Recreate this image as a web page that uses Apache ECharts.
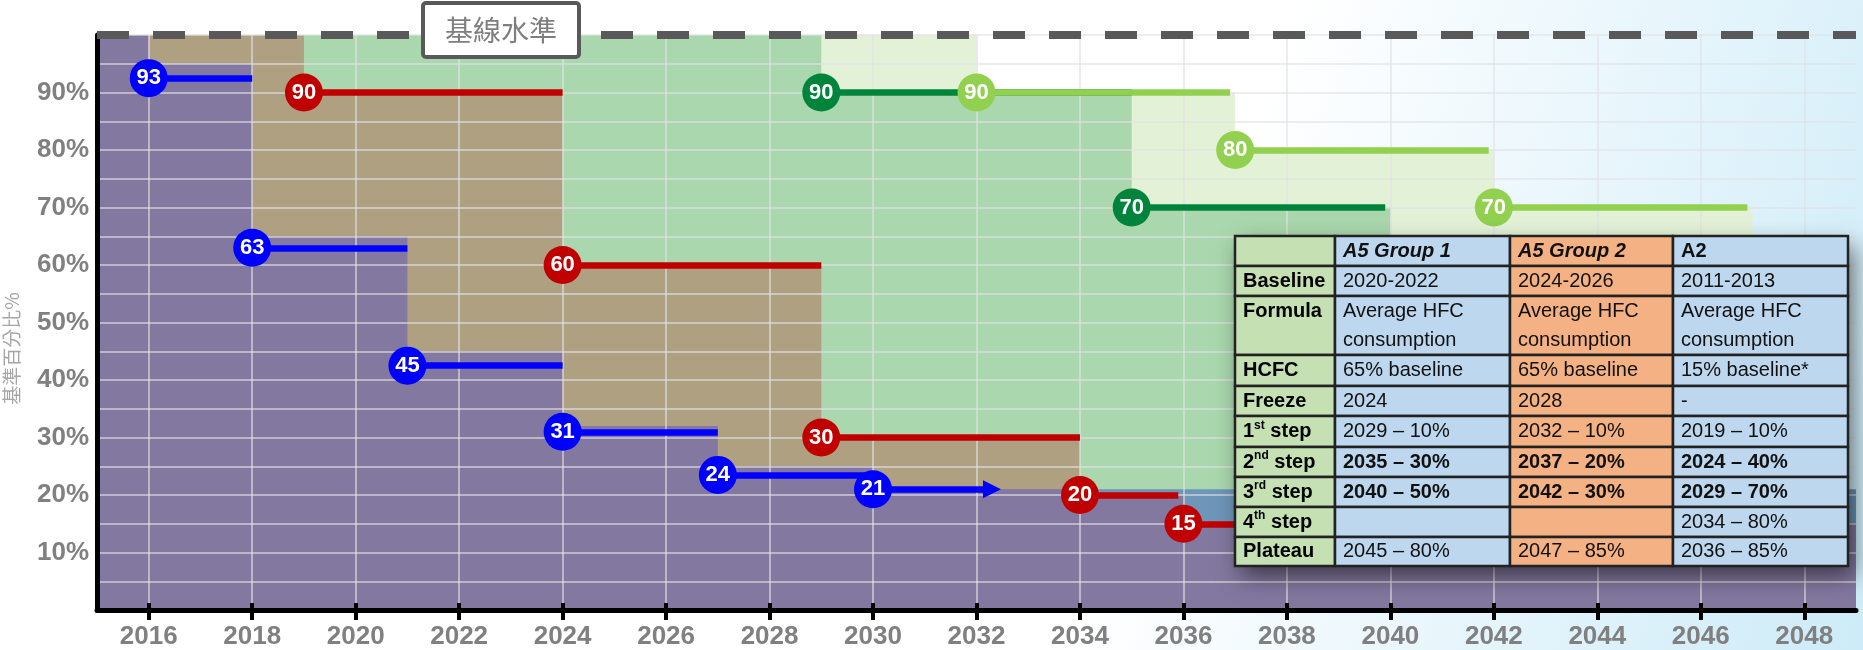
<!DOCTYPE html>
<html>
<head>
<meta charset="utf-8">
<script src="https://cdn.jsdelivr.net/npm/echarts@6/dist/echarts.min.js"></script>
<style>
  html, body { margin: 0; padding: 0; background: #fff; }
  #chart { width: 1863px; height: 650px; }
</style>
</head>
<body>
<div id="chart"></div>
<script>
// x axis tick labels
const yearLabels = [2016, 2018, 2020, 2022, 2024, 2026, 2028, 2030, 2032, 2034, 2036, 2038, 2040, 2042, 2044, 2046, 2048]
const yLabels = [10, 20, 30, 40, 50, 60, 70, 80, 90]

// step areas: level y starts at year x
const purpleX = [2015, 2016, 2018, 2021, 2024, 2027, 2030, 2034, 2036, 2049]
const purpleY = [100, 95, 65, 45, 32, 25, 21, 20, 15, 15]
const steelX = [2030, 2049]
const steelY = [21, 21]
const brownX = [2015, 2019, 2024, 2029, 2034, 2036, 2049]
const brownY = [100, 90, 60, 30, 20, 15, 15]
const greenX = [2015, 2029, 2035, 2040, 2049]
const greenY = [100, 90, 70, 20, 20]
const lightX = [2015, 2032, 2037, 2042, 2047, 2049]
const lightY = [100, 90, 80, 70, 15, 15]

// schedule segments (start year, end year, drawn level, label)
const blueStart = [2016, 2018, 2021, 2024, 2027, 2030]
const blueEnd = [2018, 2021, 2024, 2027, 2030, 2032.3]
const blueLevel = [92.5, 63, 42.5, 31, 23.5, 21]
const blueLabel = ['93', '63', '45', '31', '24', '21']

const redStart = [2019, 2024, 2029, 2034, 2036]
const redEnd = [2024, 2029, 2034, 2035.9, 2038]
const redLevel = [90, 60, 30, 20, 15]
const redLabel = ['90', '60', '30', '20', '15']

const darkGreenStart = [2029, 2035]
const darkGreenEnd = [2035, 2039.9]
const darkGreenLevel = [90, 70]
const darkGreenLabel = ['90', '70']

const lightGreenStart = [2032, 2037, 2042]
const lightGreenEnd = [2036.9, 2041.9, 2046.9]
const lightGreenLevel = [90, 80, 70]
const lightGreenLabel = ['90', '80', '70']

// table
const tableHead = ['', 'A5 Group 1', 'A5 Group 2', 'A2']
const rowNames = ['Baseline', 'Formula', 'HCFC', 'Freeze', '1st step', '2nd step', '3rd step', '4th step', 'Plateau']
const group1 = ['2020-2022', 'Average HFC\nconsumption', '65% baseline', '2024', '2029 – 10%', '2035 – 30%', '2040 – 50%', '', '2045 – 80%']
const group2 = ['2024-2026', 'Average HFC\nconsumption', '65% baseline', '2028', '2032 – 10%', '2037 – 20%', '2042 – 30%', '', '2047 – 85%']
const groupA2 = ['2011-2013', 'Average HFC\nconsumption', '15% baseline*', '-', '2019 – 10%', '2024 – 40%', '2029 – 70%', '2034 – 80%', '2036 – 85%']
const boldRows = ['2nd step', '3rd step']

const chart = echarts.init(document.getElementById('chart'))

const stepArea = (xs, ys, color) => ({
  type: 'line',
  step: 'end',
  z: 1,
  symbol: 'none',
  silent: true,
  data: xs.map((x, i) => [x, ys[i]]),
  lineStyle: { width: 0 },
  areaStyle: { color: color, opacity: 1 }
})

const segments = (starts, ends, levels, color, arrowLast) => ({
  type: 'lines',
  coordinateSystem: 'cartesian2d',
  z: 3,
  silent: true,
  symbol: 'none',
  lineStyle: { color: color, width: 6.5, opacity: 1 },
  data: starts.map((x, i) => {
    const item = { coords: [[x, levels[i]], [ends[i], levels[i]]] }
    if (arrowLast && i === starts.length - 1) {
      item.symbol = ['none', 'triangle']
      item.symbolSize = 18
    }
    return item
  })
})

const badges = (starts, levels, labels, color, extra) => Object.assign({
  type: 'scatter',
  z: 4,
  silent: true,
  symbolSize: 38,
  itemStyle: { color: color, opacity: 1 },
  data: starts.map((x, i) => [x, levels[i]]),
  label: {
    show: true,
    position: 'inside',
    formatter: (p) => labels[p.dataIndex],
    color: '#fff',
    fontWeight: 'bold',
    fontSize: 22,
    fontFamily: 'Liberation Sans'
  }
}, extra || {})

// table graphics
const colX = [1235, 1335, 1510, 1673, 1848]
const rowY = [236, 266, 296, 355, 386, 416, 447, 477, 507, 537, 566]
const colFill = ['#c5e0b3', '#bdd7ee', '#f4b183', '#bdd7ee']
const tableGraphics = []
tableGraphics.push({
  type: 'rect', z: 100,
  shape: { x: colX[0], y: rowY[0], width: colX[4] - colX[0], height: rowY[10] - rowY[0] },
  style: { fill: '#bdd7ee', shadowBlur: 22, shadowColor: 'rgba(0,0,0,0.55)', shadowOffsetX: 6, shadowOffsetY: 10 }
})
const cols = [rowNames, group1, group2, groupA2]
const richName = (s) => {
  const m = s.match(/^(\d)(st|nd|rd|th)(.*)$/)
  return m ? '{n|' + m[1] + '}{s|' + m[2] + '}{n|' + m[3] + '}' : '{n|' + s + '}'
}
for (let r = 0; r < 10; r++) {
  for (let c = 0; c < 4; c++) {
    const y0 = rowY[r], y1 = rowY[r + 1]
    tableGraphics.push({
      type: 'rect', z: 101,
      shape: { x: colX[c], y: y0, width: colX[c + 1] - colX[c], height: y1 - y0 },
      style: { fill: colFill[c], stroke: '#222', lineWidth: 2.5 }
    })
    let text, bold = false, italic = false
    if (r === 0) {
      text = tableHead[c]
      italic = c === 1 || c === 2
      bold = true
    } else {
      text = cols[c][r - 1]
      bold = c > 0 && boldRows.indexOf(rowNames[r - 1]) >= 0
    }
    if (!text) continue
    const twoLine = text.indexOf('\n') >= 0
    const topAligned = r === 2
    const font = (italic ? 'italic ' : '') + (bold ? 'bold ' : '') + '20px "Liberation Sans"'
    if (c === 0 && r > 0) {
      tableGraphics.push({
        type: 'text', z: 102,
        x: colX[c] + 8,
        y: topAligned ? y0 + 15 : (y0 + y1) / 2,
        style: {
          text: richName(text),
          align: 'left', verticalAlign: 'middle',
          rich: {
            n: { fontSize: 20, fontWeight: 'bold', fontFamily: 'Liberation Sans', color: '#111', lineHeight: 24 },
            s: { fontSize: 12, fontWeight: 'bold', fontFamily: 'Liberation Sans', color: '#111', verticalAlign: 'top' }
          }
        }
      })
    } else {
      tableGraphics.push({
        type: 'text', z: 102,
        x: colX[c] + 8,
        y: (y0 + y1) / 2,
        style: {
          text: text, font: font, fill: '#111',
          align: 'left', verticalAlign: 'middle',
          lineHeight: twoLine ? 29 : 24
        }
      })
    }
  }
}

chart.setOption({
  backgroundColor: new echarts.graphic.LinearGradient(0, 0, 1, 1, [
    { offset: 0, color: '#ffffff' },
    { offset: 0.62, color: '#ffffff' },
    { offset: 1, color: '#cdebf8' }
  ]),
  animation: false,
  title: {
    text: '基線水準',
    left: 423,
    top: 3,
    padding: [11, 22, 11, 22],
    borderColor: '#595959',
    borderWidth: 4,
    borderRadius: 3,
    backgroundColor: '#fff',
    textStyle: { fontSize: 28, lineHeight: 32, fontWeight: 'normal', color: '#7f7f7f', fontFamily: 'Noto Sans CJK TC' }
  },
  grid: { left: 97, right: 7, top: 35, bottom: 40, outerBoundsMode: 'none', containLabel: false },
  xAxis: [
    {
      type: 'value', min: 2015, max: 2049, interval: 1, z: 2,
      axisLine: { lineStyle: { color: '#000', width: 5 } },
      axisTick: { show: true, customValues: yearLabels, length: 10, lineStyle: { color: '#000', width: 4 } },
      axisLabel: {
        customValues: yearLabels,
        formatter: (v) => String(v),
        margin: 14, fontSize: 26, fontWeight: 'bold', color: '#808080', fontFamily: 'Liberation Sans'
      },
      splitLine: { show: true, lineStyle: { color: 'rgba(226,226,230,0.8)', width: 1.5 } }
    },
    {
      type: 'value', min: 2015, max: 2049, interval: 1, z: 2, position: 'bottom',
      axisLine: { show: false },
      axisTick: { show: true, inside: true, customValues: yearLabels, length: 7, lineStyle: { color: '#000', width: 4 } },
      axisLabel: { show: false },
      splitLine: { show: false }
    }
  ],
  yAxis: {
    type: 'value', min: 0, max: 100, interval: 5, z: 2,
    name: '基準百分比%',
    nameLocation: 'middle',
    nameRotate: 90,
    nameGap: 76,
    nameTextStyle: { fontSize: 19, color: '#a6a6a6', fontFamily: 'Noto Sans CJK TC', padding: [0, 52, 0, 0] },
    axisLine: { show: true, lineStyle: { color: '#000', width: 5 } },
    axisTick: { show: false },
    axisLabel: {
      customValues: yLabels,
      formatter: (v) => v + '%',
      margin: 8, fontSize: 26, fontWeight: 'bold', color: '#808080', fontFamily: 'Liberation Sans'
    },
    splitLine: { show: true, lineStyle: { color: 'rgba(226,226,230,0.8)', width: 1.5 } }
  },
  graphic: { elements: tableGraphics },
  series: [
    stepArea(lightX, lightY, '#e3f2d7'),
    stepArea(greenX, greenY, '#aad7ad'),
    stepArea(brownX, brownY, '#b0a082'),
    stepArea(steelX, steelY, '#6e96b9'),
    stepArea(purpleX, purpleY, '#83789f'),
    segments(darkGreenStart, darkGreenEnd, darkGreenLevel, '#00843c', false),
    segments(lightGreenStart, lightGreenEnd, lightGreenLevel, '#92d050', false),
    segments(redStart, redEnd, redLevel, '#c00000', false),
    segments(blueStart, blueEnd, blueLevel, '#0000ff', true),
    badges(darkGreenStart, darkGreenLevel, darkGreenLabel, '#00843c'),
    badges(lightGreenStart, lightGreenLevel, lightGreenLabel, '#92d050'),
    badges(redStart, redLevel, redLabel, '#c00000'),
    badges(blueStart, blueLevel, blueLabel, '#0000ff', {
      markLine: {
        silent: true,
        symbol: 'none',
        label: { show: false },
        lineStyle: { type: [32, 24], width: 8, color: '#595959' },
        data: [{ yAxis: 100 }]
      }
    })
  ]
})
</script>
</body>
</html>
